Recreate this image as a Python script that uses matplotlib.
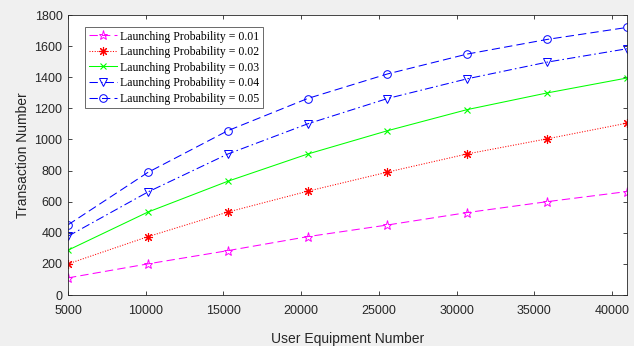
import matplotlib
matplotlib.use("Agg")
import matplotlib.pyplot as plt

x = [5000, 10137, 15274, 20411, 25549, 30686, 35823, 40960]
p01 = [110, 200, 285, 375, 450, 530, 600, 665]
p02 = [200, 375, 533, 667, 790, 907, 1004, 1105]
p03 = [288, 533, 731, 906, 1056, 1192, 1299, 1395]
p04 = [378, 662, 906, 1100, 1263, 1390, 1497, 1583]
p05 = [451, 788, 1056, 1263, 1421, 1549, 1643, 1720]
labels = ["Launching Probability = 0.01", "Launching Probability = 0.02",
          "Launching Probability = 0.03", "Launching Probability = 0.04",
          "Launching Probability = 0.05"]
xticks = [5000, 10000, 15000, 20000, 25000, 30000, 35000, 40000]
yticks = [0, 200, 400, 600, 800, 1000, 1200, 1400, 1600, 1800]

W, H = 634, 346
L, R, T, B = 68, 627, 15, 295
fig = plt.figure(figsize=(W/100, H/100), dpi=100, facecolor="#f0f0f0")
ax = fig.add_axes([L/W, 1 - B/H, (R-L)/W, (B-T)/H])
ax.set_facecolor("white")

lw = 0.75
ax.plot(x, p01, linestyle=(0, (8, 4)), color="#ff00ff", marker="*", mfc="none", ms=6.5, mew=0.7, lw=lw, label=labels[0])
ax.plot(x, p02, linestyle=(0, (1, 1.5)), color="#ff0000", marker=(8, 2, 0), ms=6.5, mew=0.8, lw=lw, label=labels[1])
ax.plot(x, p03, linestyle="-", color="#00ff00", marker="x", ms=4.5, mew=0.8, lw=lw, label=labels[2])
ax.plot(x, p04, linestyle=(0, (8, 3, 1.5, 3)), color="#0000ff", marker="v", mfc="none", ms=6, mew=0.7, lw=lw, label=labels[3])
ax.plot(x, p05, linestyle=(0, (8, 4)), color="#0000ff", marker="o", mfc="none", ms=5.5, mew=0.7, lw=lw, label=labels[4])

ax.set_xlim(5000, 40960)
ax.set_ylim(0, 1800)
ax.set_xticks(xticks)
ax.set_yticks(yticks)
ax.tick_params(direction="in", top=True, right=True, length=3, width=0.6,
               labelsize=9, colors="#262626")
ax.tick_params(axis="x", pad=7)
ax.tick_params(axis="y", pad=4)
for lab in ax.get_xticklabels() + ax.get_yticklabels():
    lab.set_family("Liberation Sans")
for s in ax.spines.values():
    s.set_color("#262626")
    s.set_linewidth(0.6)

ax.set_xlabel("User Equipment Number", family="Liberation Sans", fontsize=10, color="#262626", labelpad=11)
ax.set_ylabel("Transaction Number", family="Liberation Sans", fontsize=10, color="#262626", labelpad=3)

leg = ax.legend(loc="upper left", bbox_to_anchor=((85-L)/(R-L), 1 - (27-T)/(B-T)),
                prop={"family": "Liberation Serif", "size": 8.5},
                frameon=True, fancybox=False, edgecolor="#262626",
                handlelength=2.4, handletextpad=0.3, labelspacing=0.3,
                borderpad=0.3, borderaxespad=0)
leg.get_frame().set_linewidth(0.6)

fig.savefig("out.png", dpi=100, facecolor=fig.get_facecolor())
